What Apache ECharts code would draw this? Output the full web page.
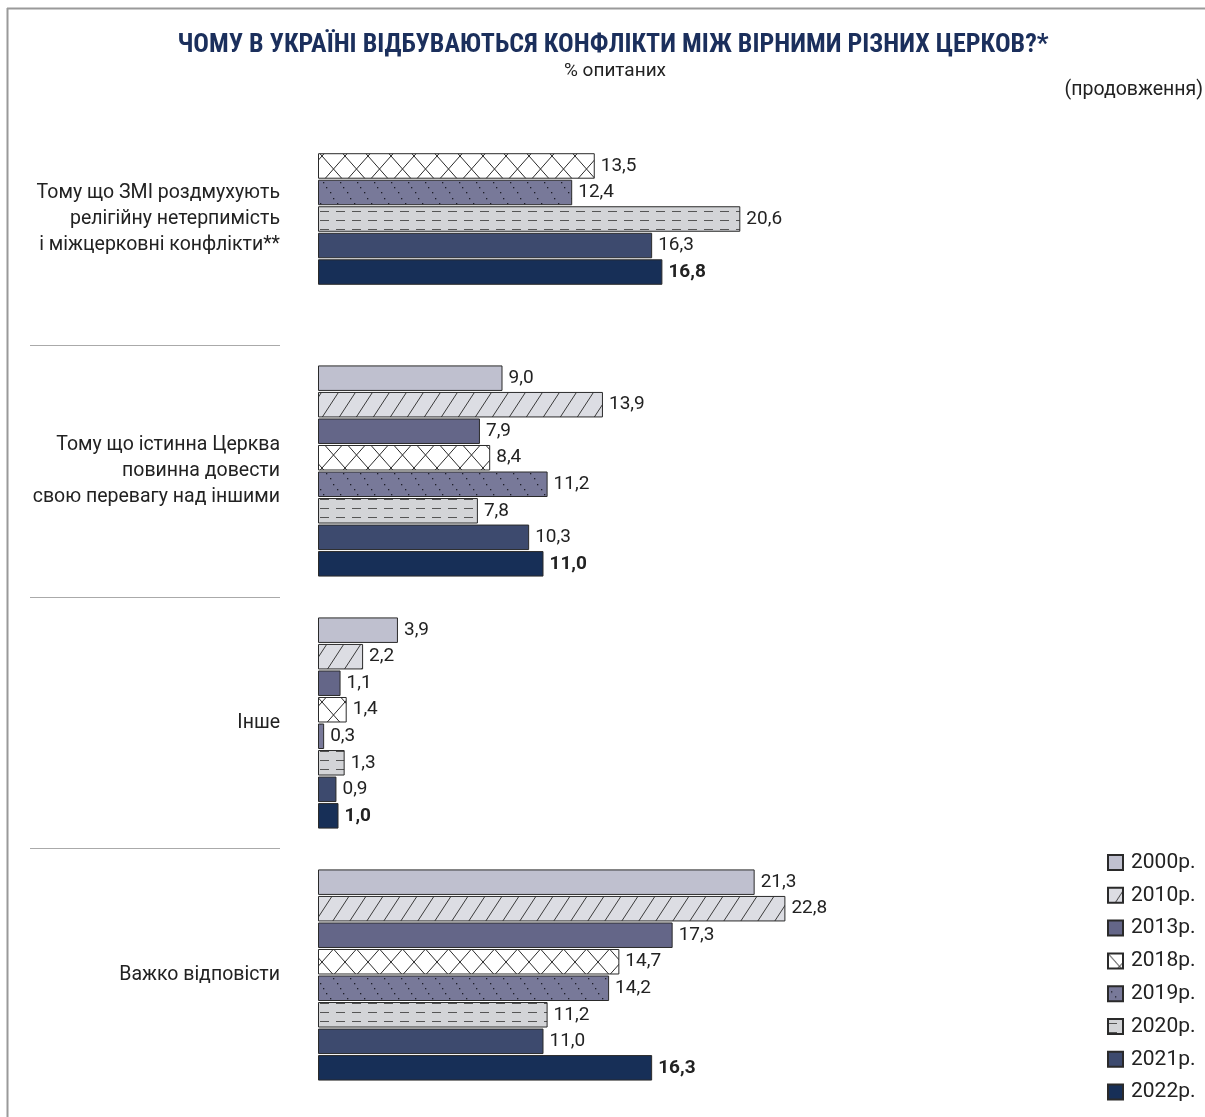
<!DOCTYPE html>
<html>
<head>
<meta charset="utf-8">
<script src="https://cdn.jsdelivr.net/npm/echarts@6/dist/echarts.min.js"></script>
<style>
html,body{margin:0;padding:0;background:#fff;}
#chart{width:1205px;height:1117px;}
</style>
</head>
<body>
<div id="chart"></div>
<script>
// ---------- DATA ----------
const categories = [
  "Тому що ЗМІ роздмухують\nрелігійну нетерпимість\nі міжцерковні конфлікти**",
  "Тому що істинна Церква\nповинна довести\nсвою перевагу над іншими",
  "Інше",
  "Важко відповісти"
];
const years = ["2000р.", "2010р.", "2013р.", "2018р.", "2019р.", "2020р.", "2021р.", "2022р."];
const y2000 = [null, 9.0, 3.9, 21.3];
const y2010 = [null, 13.9, 2.2, 22.8];
const y2013 = [null, 7.9, 1.1, 17.3];
const y2018 = [13.5, 8.4, 1.4, 14.7];
const y2019 = [12.4, 11.2, 0.3, 14.2];
const y2020 = [20.6, 7.8, 1.3, 11.2];
const y2021 = [16.3, 10.3, 0.9, 11.0];
const y2022 = [16.8, 11.0, 1.0, 16.3];
const seriesValues = [y2000, y2010, y2013, y2018, y2019, y2020, y2021, y2022];

// ---------- PATTERNS ----------
function tile(w, h, draw) {
  const c = document.createElement('canvas');
  c.width = w; c.height = h;
  const ctx = c.getContext('2d');
  draw(ctx, w, h);
  return { image: c, repeat: 'repeat' };
}
const patDiag = tile(17, 26, (ctx, w, h) => {
  ctx.fillStyle = '#dcdde3'; ctx.fillRect(0, 0, w, h);
  ctx.strokeStyle = '#3a3a3a'; ctx.lineWidth = 1;
  for (const dx of [-w, 0, w]) {
    ctx.beginPath(); ctx.moveTo(dx, h); ctx.lineTo(dx + w, 0); ctx.stroke();
  }
});
const patCross = tile(23, 26, (ctx, w, h) => {
  ctx.fillStyle = '#ffffff'; ctx.fillRect(0, 0, w, h);
  ctx.strokeStyle = '#2a2a2a'; ctx.lineWidth = 1;
  ctx.beginPath(); ctx.moveTo(0, 0); ctx.lineTo(w, h); ctx.stroke();
  ctx.beginPath(); ctx.moveTo(w, 0); ctx.lineTo(0, h); ctx.stroke();
});
const patDots = tile(17, 26, (ctx, w, h) => {
  ctx.fillStyle = '#787999'; ctx.fillRect(0, 0, w, h);
  ctx.fillStyle = '#1e1e2a';
  for (let i = 0; i < 5; i++) {
    const t = i / 5;
    ctx.fillRect(Math.round(t * w), Math.round(t * h), 1.3, 1.3);
  }
});
const patDash = tile(16, 9, (ctx, w, h) => {
  ctx.fillStyle = '#d3d4d7'; ctx.fillRect(0, 0, w, h);
  ctx.strokeStyle = '#555'; ctx.lineWidth = 1;
  ctx.beginPath(); ctx.moveTo(0, 4.5); ctx.lineTo(9, 4.5); ctx.stroke();
});
const fills = ['#bfc0cf', patDiag, '#646688', patCross, patDots, patDash, '#3d4a6e', '#172f57'];

// ---------- OPTION ----------
const FONT = "'Roboto Condensed','Liberation Sans Narrow','DejaVu Sans Condensed',Roboto,sans-serif";
const LFONT = "Roboto,'Noto Sans',sans-serif";
const bandTop = 93, bandH = 252;
const grids = [], xAxes = [], yAxes = [], series = [];
categories.forEach((cat, g) => {
  grids.push({ left: 318, width: 820, top: bandTop + g * bandH, height: bandH });
  xAxes.push({ type: 'value', gridIndex: g, min: 0, max: 40, show: false });
  yAxes.push({
    type: 'category', gridIndex: g, data: [cat], inverse: true,
    axisLine: { show: false }, axisTick: { show: false },
    axisLabel: { fontSize: 19.5, color: '#222', lineHeight: 26, margin: 38, align: 'right', fontFamily: LFONT }
  });
  years.forEach((yr, i) => {
    const v = seriesValues[i][g];
    if (v === null) return;
    series.push({
      name: yr, type: 'bar', xAxisIndex: g, yAxisIndex: g,
      data: [v], barWidth: 25.5, barGap: '4%',
      itemStyle: { color: fills[i], borderColor: '#2a2a2a', borderWidth: 1 },
      label: {
        show: true, position: 'right', distance: 6,
        fontSize: 19, color: '#222', fontFamily: LFONT,
        fontWeight: i === 7 ? 'bold' : 'normal',
        formatter: p => p.value.toFixed(1).replace('.', ',')
      },
      emphasis: { disabled: true }, animation: false
    });
  });
});

const option = {
  backgroundColor: '#fff',
  animation: false,
  title: [
    { text: 'ЧОМУ В УКРАЇНІ ВІДБУВАЮТЬСЯ КОНФЛІКТИ МІЖ ВІРНИМИ РІЗНИХ ЦЕРКОВ?*', left: 608, top: 27, textAlign: 'center',
      textStyle: { fontSize: 26, fontWeight: 'bold', color: '#1b2f5c', fontFamily: FONT } },
    { text: '% опитаних', left: 610, top: 57, textAlign: 'center',
      textStyle: { fontSize: 19, fontWeight: 'normal', color: '#222', fontFamily: LFONT } },
    { text: '(продовження)', right: -3, top: 75,
      textStyle: { fontSize: 19.5, fontWeight: 'normal', color: '#222', fontFamily: LFONT } }
  ],
  legend: {
    data: years, orient: 'vertical', left: 1102, top: 847, icon: 'rect',
    itemWidth: 15, itemHeight: 15, itemGap: 11.8,
    textStyle: { fontSize: 21, color: '#222', fontFamily: LFONT, padding: [0, 0, 0, 3] },
    selectedMode: false
  },
  grid: grids, xAxis: xAxes, yAxis: yAxes, series: series,
  graphic: [
    { type: 'line', shape: { x1: 7, y1: 8.5, x2: 1205, y2: 8.5 }, style: { stroke: '#9a9a9a', lineWidth: 2 } },
    { type: 'line', shape: { x1: 7.5, y1: 8, x2: 7.5, y2: 1117 }, style: { stroke: '#9a9a9a', lineWidth: 2 } },
    { type: 'line', shape: { x1: 30, y1: 345.5, x2: 280, y2: 345.5 }, style: { stroke: '#aaa', lineWidth: 1 } },
    { type: 'line', shape: { x1: 30, y1: 597.5, x2: 280, y2: 597.5 }, style: { stroke: '#aaa', lineWidth: 1 } },
    { type: 'line', shape: { x1: 30, y1: 848.5, x2: 280, y2: 848.5 }, style: { stroke: '#aaa', lineWidth: 1 } }
  ]
};
const chart = echarts.init(document.getElementById('chart'), null, { renderer: 'canvas' });
chart.setOption(option);
</script>
</body>
</html>
